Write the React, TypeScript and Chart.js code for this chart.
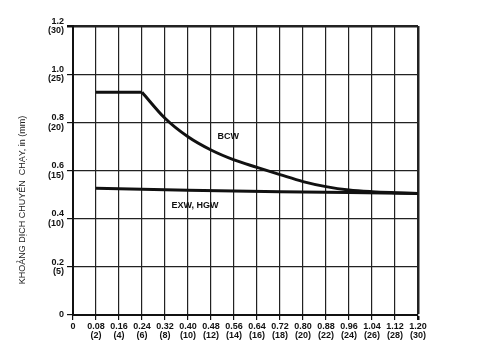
import React, { useEffect, useRef } from "react";
import { Chart, registerables } from "chart.js";

Chart.register(...registerables);

// X axis: travel (in) with mm equivalents
const xTicksIn = [0, 0.08, 0.16, 0.24, 0.32, 0.4, 0.48, 0.56, 0.64, 0.72, 0.8, 0.88, 0.96, 1.04, 1.12, 1.2];
const xTickLabelsIn = ["0", "0.08", "0.16", "0.24", "0.32", "0.40", "0.48", "0.56", "0.64", "0.72", "0.80", "0.88", "0.96", "1.04", "1.12", "1.20"];
const xTickLabelsMm = ["", "(2)", "(4)", "(6)", "(8)", "(10)", "(12)", "(14)", "(16)", "(18)", "(20)", "(22)", "(24)", "(26)", "(28)", "(30)"];

// Y axis
const yTicksIn = [0, 0.2, 0.4, 0.6, 0.8, 1.0, 1.2];
const yTickLabelsIn = ["0", "0.2", "0.4", "0.6", "0.8", "1.0", "1.2"];
const yTickLabelsMm = ["", "(5)", "(10)", "(15)", "(20)", "(25)", "(30)"];

const yTitle = "KHOẢNG DỊCH CHUYỂN  CHẠY, in (mm)";

// BCW series
const bcwX = [0.08, 0.24, 0.32, 0.4, 0.48, 0.56, 0.64, 0.72, 0.8, 0.88, 0.96, 1.04, 1.12, 1.2];
const bcwY = [0.925, 0.925, 0.817, 0.74, 0.685, 0.644, 0.613, 0.583, 0.554, 0.533, 0.519, 0.512, 0.508, 0.505];
const bcwKnee = 0.24;

// EXW, HGW series
const exwX = [0.08, 0.4, 0.72, 0.96, 1.2];
const exwY = [0.526, 0.518, 0.512, 0.509, 0.504];

const annotations = [
  { text: "BCW", x: 0.54, y: 0.74 },
  { text: "EXW, HGW", x: 0.424, y: 0.453 },
];

const FONT = "'Liberation Sans', Arial, sans-serif";

export default function App() {
  const ref = useRef<HTMLCanvasElement | null>(null);

  useEffect(() => {
    if (!ref.current) return;
    const bcwFlat = bcwX
      .map((x, i) => ({ x, y: bcwY[i] }))
      .filter((p) => p.x <= bcwKnee);
    const bcwCurve = bcwX
      .map((x, i) => ({ x, y: bcwY[i] }))
      .filter((p) => p.x >= bcwKnee);
    const exw = exwX.map((x, i) => ({ x, y: exwY[i] }));

    const textPlugin = {
      id: "texts",
      afterDraw(chart: any) {
        const ctx = chart.ctx;
        const xs = chart.scales.x;
        const ys = chart.scales.y;
        ctx.save();
        ctx.fillStyle = "#111";
        ctx.font = `bold 9px ${FONT}`;
        ctx.textAlign = "center";
        ctx.textBaseline = "middle";
        annotations.forEach((a) => {
          ctx.fillText(a.text, xs.getPixelForValue(a.x), ys.getPixelForValue(a.y));
        });
        ctx.restore();
        ctx.save();
        ctx.fillStyle = "#222";
        ctx.font = `9px ${FONT}`;
        ctx.translate(23, 200);
        ctx.rotate(-Math.PI / 2);
        ctx.textAlign = "center";
        ctx.textBaseline = "middle";
        ctx.fillText(yTitle, 0, 0);
        ctx.restore();
      },
    };

    const lineStyle = {
      borderColor: "#111",
      borderWidth: 3,
      pointRadius: 0,
      fill: false,
    };

    const chart = new Chart(ref.current, {
      type: "line",
      data: {
        datasets: [
          { label: "BCW", data: bcwFlat, ...lineStyle, tension: 0 },
          { label: "BCW curve", data: bcwCurve, ...lineStyle, cubicInterpolationMode: "monotone" },
          { label: "EXW, HGW", data: exw, ...lineStyle, tension: 0 },
        ],
      },
      options: {
        responsive: false,
        animation: false,
        layout: { padding: { left: 0, top: 26, right: 62, bottom: 0 } },
        plugins: { legend: { display: false }, tooltip: { enabled: false } },
        scales: {
          x: {
            type: "linear",
            min: 0,
            max: 1.2,
            afterFit: (s: any) => {
              s.height = 36;
            },
            afterBuildTicks: (s: any) => {
              s.ticks = xTicksIn.map((v) => ({ value: v }));
            },
            ticks: {
              autoSkip: false,
              maxRotation: 0,
              padding: 2,
              color: "#111",
              font: { family: FONT, size: 9, weight: "bold", lineHeight: 1 },
              callback: (v: any, i: number) =>
                xTickLabelsMm[i] ? [xTickLabelsIn[i], xTickLabelsMm[i]] : xTickLabelsIn[i],
            },
            grid: {
              color: "#222",
              lineWidth: (c: any) => (c.tick && c.tick.value === 1.2 ? 2.5 : 1.2),
              tickLength: 5,
              tickColor: "#111",
            },
            border: { color: "#111", width: 2 },
          },
          y: {
            type: "linear",
            min: 0,
            max: 1.2,
            afterFit: (s: any) => {
              s.width = 73;
            },
            afterBuildTicks: (s: any) => {
              s.ticks = yTicksIn.map((v) => ({ value: v }));
            },
            ticks: {
              padding: 3,
              color: "#111",
              font: { family: FONT, size: 9, weight: "bold", lineHeight: 1.05 },
              callback: (v: any, i: number) =>
                yTickLabelsMm[i] ? [yTickLabelsIn[i], yTickLabelsMm[i]] : yTickLabelsIn[i],
            },
            grid: {
              color: "#222",
              lineWidth: (c: any) => (c.tick && c.tick.value === 1.2 ? 2.5 : 1.2),
              tickLength: 6,
              tickColor: "#111",
            },
            border: { color: "#111", width: 2 },
          },
        },
      },
      plugins: [textPlugin],
    } as any);

    return () => chart.destroy();
  }, []);

  return (
    <div style={{ position: "fixed", left: 0, top: 0, width: 480, height: 351, background: "#fff" }}>
      <canvas ref={ref} width={480} height={351} style={{ width: 480, height: 351 }} />
    </div>
  );
}
